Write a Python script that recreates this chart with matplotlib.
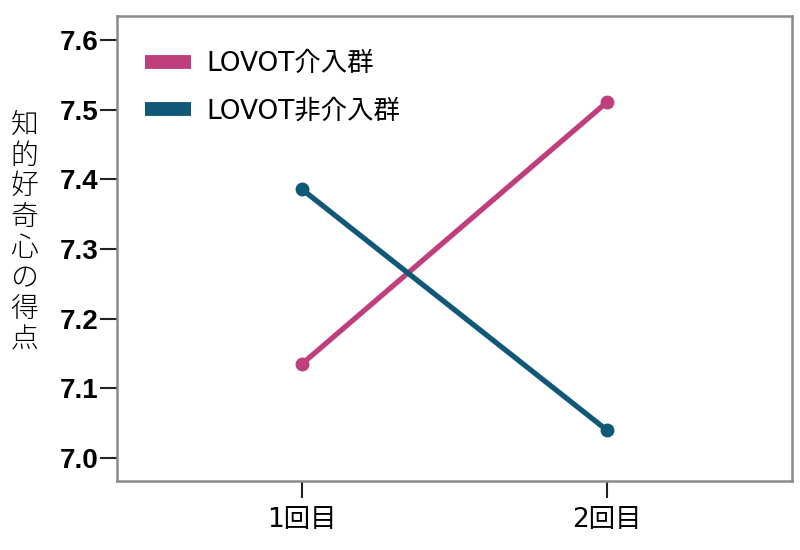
import matplotlib.pyplot as plt
from matplotlib.lines import Line2D

plt.rcParams['font.family'] = ['Noto Sans CJK JP', 'DejaVu Sans']

sessions = ['1回目', '2回目']
groups = ['LOVOT介入群', 'LOVOT非介入群']
vals_intervention = [7.135, 7.511]
vals_control = [7.386, 7.040]
colors = ['#BE3F7C', '#0F5878']
yticks = [7.0, 7.1, 7.2, 7.3, 7.4, 7.5, 7.6]
ylabel = '知的好奇心の得点'

mixed = ['DejaVu Sans', 'Noto Sans CJK JP']

fig = plt.figure(figsize=(8, 5.5), dpi=100)
ax = fig.add_axes([0.146, 0.1255, 0.844, 0.845])

x = list(range(len(sessions)))
for vals, c in zip([vals_intervention, vals_control], colors):
    ax.plot(x, vals, color=c, lw=3.8, marker='o', ms=9, solid_capstyle='round')

ax.set_xlim(-0.607, 1.607)
ax.set_ylim(6.967, 7.6345)
ax.set_xticks(x)
ax.set_xticklabels(sessions, fontsize=19, family=mixed)
ax.set_yticks(yticks)
ax.set_yticklabels(['%.1f' % v for v in yticks], fontsize=20, fontweight='bold',
                   family=['Liberation Sans', 'DejaVu Sans'])
ax.tick_params(axis='both', length=12, width=1.5, color='#222222')
ax.tick_params(axis='y', pad=1)
ax.tick_params(axis='x', pad=7)

for s in ax.spines.values():
    s.set_color('#8a8a8a')
    s.set_linewidth(1.8)

ax.set_ylabel('\n'.join(ylabel), rotation=0, fontsize=20, va='center', ha='center',
              linespacing=1.12, fontweight='light')
ax.yaxis.set_label_coords(-0.137, 0.535)

handles = [Line2D([], [], color=c, lw=10, solid_capstyle='butt') for c in colors]
leg = ax.legend(handles, groups, loc='upper left', frameon=False,
                prop={'family': mixed, 'size': 19},
                handlelength=1.74, handletextpad=0.57, labelspacing=0.8,
                borderaxespad=1.0, bbox_to_anchor=(-0.013, 1.004))

fig.savefig('out.png', dpi=100)
